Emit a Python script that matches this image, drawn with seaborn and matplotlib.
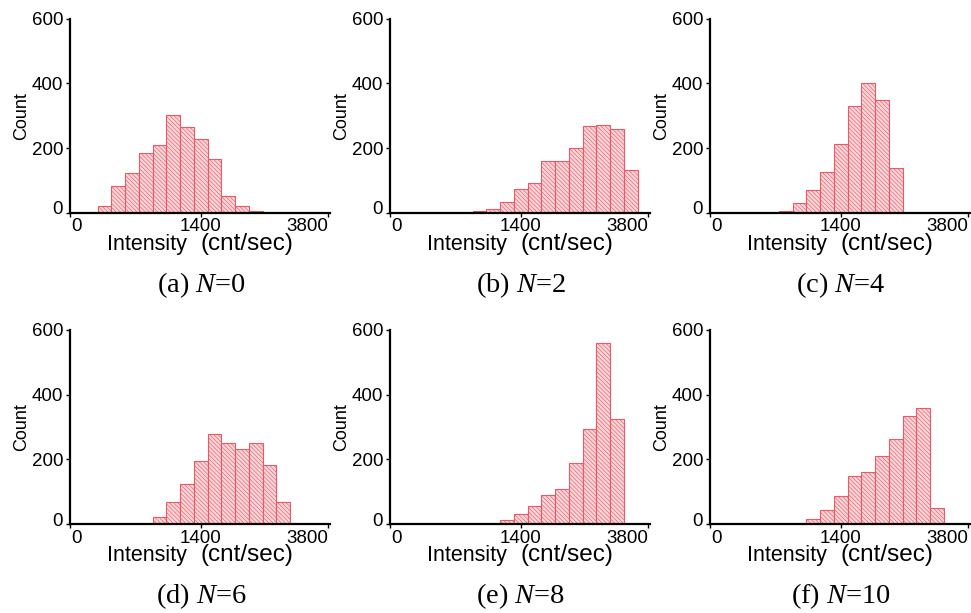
import numpy as np
import pandas as pd
import matplotlib
matplotlib.use("Agg")
import matplotlib.pyplot as plt
import matplotlib.transforms as mtransforms
import seaborn as sns

# Histogram counts per intensity bin for each sample (bins of equal width,
# indexed from the left end of the intensity axis)
captions = ["(a) $N$=0", "(b) $N$=2", "(c) $N$=4",
            "(d) $N$=6", "(e) $N$=8", "(f) $N$=10"]
first_bin = [2, 6, 5, 6, 8, 7]
counts_n0 = [20, 84, 122, 185, 208, 303, 266, 229, 167, 53, 22, 6]
counts_n2 = [4, 10, 33, 73, 91, 160, 160, 199, 269, 272, 258, 131]
counts_n4 = [6, 29, 69, 125, 214, 331, 402, 348, 139]
counts_n6 = [22, 69, 124, 195, 279, 249, 231, 252, 184, 68]
counts_n8 = [13, 32, 55, 90, 109, 188, 295, 559, 325]
counts_n10 = [17, 42, 88, 148, 161, 211, 264, 333, 359, 48]
all_counts = [counts_n0, counts_n2, counts_n4, counts_n6, counts_n8, counts_n10]

x_tick_pos = [0, 9.5, 18.75]
x_tick_labels = ["0", "1400", "3800"]
y_ticks = [0, 200, 400, 600]

sns.set_theme(style="ticks")
plt.rcParams["font.family"] = ["Liberation Sans", "DejaVu Sans"]
plt.rcParams["mathtext.fontset"] = "custom"
plt.rcParams["mathtext.rm"] = "Liberation Serif"
plt.rcParams["mathtext.it"] = "Liberation Serif:italic"
plt.rcParams["hatch.linewidth"] = 0.45
plt.rcParams["hatch.color"] = "#ea5a66"
for key in ("text.color", "axes.labelcolor", "xtick.color", "ytick.color",
            "axes.edgecolor"):
    plt.rcParams[key] = "black"

W, H = 971, 613
fig = plt.figure(figsize=(W / 100, H / 100), dpi=100)

lefts = [70, 390, 710]
bottoms = [212.7, 524]
ax_w, ax_h = 260, 194

for i, counts in enumerate(all_counts):
    row, col = divmod(i, 3)
    left_px = lefts[col]
    base_px = bottoms[row]
    ax = fig.add_axes([left_px / W, 1 - base_px / H, ax_w / W, ax_h / H])

    start = first_bin[i]
    stop = start + len(counts)
    df = pd.DataFrame({"bin": np.arange(start, stop) + 0.5, "count": counts})
    sns.histplot(data=df, x="bin", weights="count", binwidth=1,
                 binrange=(start, stop), ax=ax,
                 color="#fad7da", edgecolor="#ea5a66", linewidth=0.8,
                 hatch="\\\\\\\\\\\\\\\\", alpha=1)

    ax.set_xlim(0, 18.9)
    ax.set_ylim(0, 600)
    ax.set_xticks(x_tick_pos)
    ax.set_xticklabels(x_tick_labels)
    ax.set_yticks(y_ticks)
    ax.set_xlabel("")
    ax.set_ylabel("Count", fontsize=13, labelpad=1)
    ax.tick_params(axis="both", labelsize=13.5, length=3, width=1,
                   color="black", labelcolor="black", pad=2)
    ax.tick_params(axis="x", pad=1)
    ax.get_xticklabels()[2].set_horizontalalignment("right")
    # nudge the two zero labels away from the corner
    x0 = ax.get_xticklabels()[0]
    x0.set_transform(x0.get_transform() +
                     mtransforms.ScaledTranslation(6 / 100, 0, fig.dpi_scale_trans))
    y0 = ax.get_yticklabels()[0]
    y0.set_transform(y0.get_transform() +
                     mtransforms.ScaledTranslation(0, 5 / 100, fig.dpi_scale_trans))
    for side in ("top", "right"):
        ax.spines[side].set_visible(False)
    for side in ("left", "bottom"):
        ax.spines[side].set_linewidth(1.6)
        ax.spines[side].set_color("black")
    ax.set_facecolor("white")

    # axis title in two sizes
    fig.text((left_px + 117) / W, 1 - (base_px + 37.5) / H, "Intensity",
             ha="right", va="baseline", fontsize=15.5, color="black")
    fig.text((left_px + 130) / W, 1 - (base_px + 37.5) / H, "(cnt/sec)",
             ha="left", va="baseline", fontsize=17.5, color="black")
    # panel caption
    fig.text((left_px + 131) / W, 1 - (base_px + 72) / H, captions[i],
             ha="center", va="center", fontsize=20.5, color="black",
             family=["Liberation Serif", "DejaVu Serif"])

fig.savefig("out.png", dpi=100, facecolor="white")
